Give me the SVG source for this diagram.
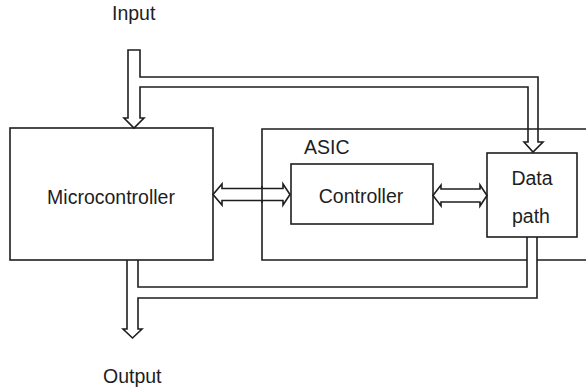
<svg xmlns="http://www.w3.org/2000/svg" width="586" height="387" viewBox="0 0 586 387">
<style>
.box{fill:none;stroke:#1e1e1e;stroke-width:1.6}
.bus{fill:none;stroke:#1e1e1e;stroke-width:1.6;stroke-linejoin:miter}
.dbl{fill:#fff;stroke:#1e1e1e;stroke-width:1.6;stroke-linejoin:miter}
text{font-family:"Liberation Sans",Arial,sans-serif;font-size:19.5px;fill:#1e1e1e}
</style>
<rect width="586" height="387" fill="#fff"/>
<g id="asic">
<path class="box" d="M600,129 H262 V260 H527 M537,260 H600"/>
<text x="304" y="154">ASIC</text>
</g>
<g id="microcontroller">
<rect class="box" x="10" y="128" width="203" height="132"/>
<text x="111" y="204" text-anchor="middle">Microcontroller</text>
</g>
<g id="controller">
<rect class="box" x="291" y="164" width="142" height="60"/>
<text x="361" y="203" text-anchor="middle">Controller</text>
</g>
<g id="datapath">
<rect class="box" x="487" y="153" width="90" height="84"/>
<text x="532" y="185" text-anchor="middle">Data</text>
<text x="531" y="223" text-anchor="middle">path</text>
</g>
<g id="input">
<text x="112" y="20">Input</text>
</g>
<g id="output">
<text x="103" y="383">Output</text>
</g>
<g id="connectors">
<path class="bus" d="M128,50 V118 H124 L134,128 L144,118 H140 V87 H528 V142 H524 L533,152 L543,142 H538 V77 H140 V50 Z"/>
<path class="bus" d="M127,260 V329 H123 L132.5,338 L142,329 H138 V298 H537 V237 M527,237 V287 H138 V260"/>
<path class="dbl" d="M213,194.5 L222,184 V188.5 H283 V184 L290,194.5 L283,205 V200.5 H222 V205 Z"/>
<line class="box" x1="262" y1="186" x2="262" y2="203"/>
<path class="dbl" d="M433,195.5 L441,185 V189 H480 V185 L487,195.5 L480,206 V202 H441 V206 Z"/>
</g>
</svg>
